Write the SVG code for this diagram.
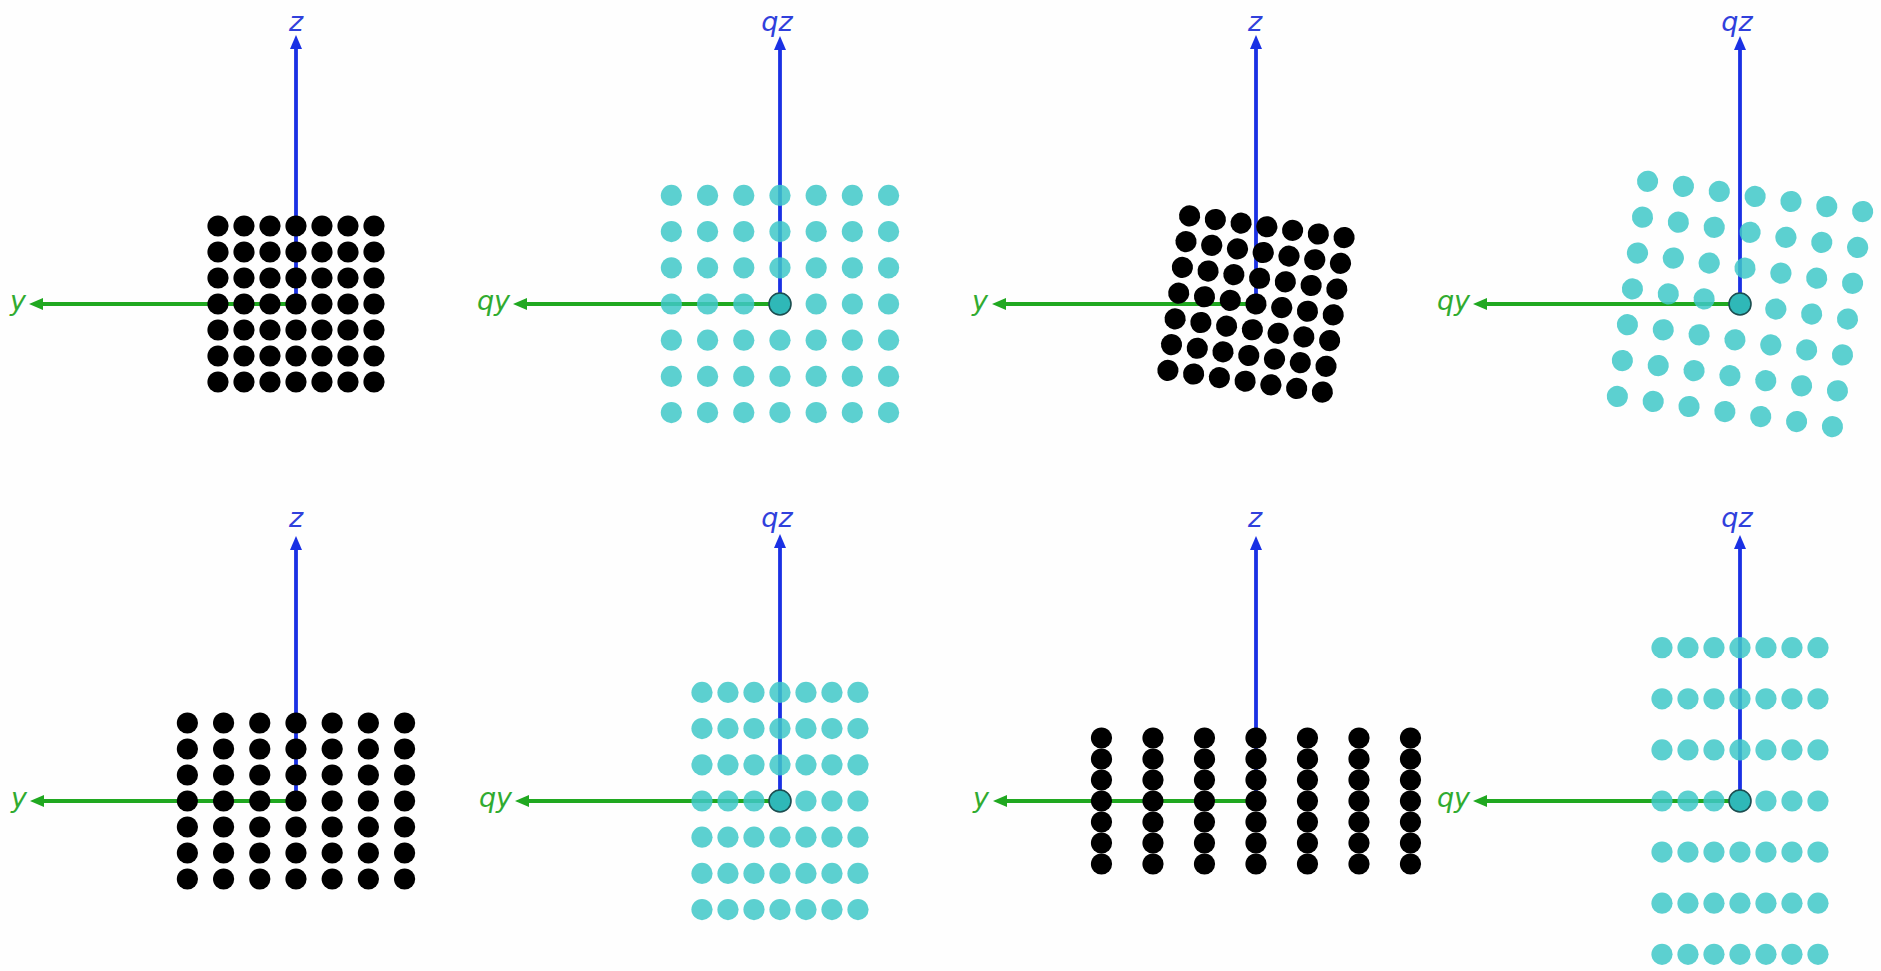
<svg xmlns="http://www.w3.org/2000/svg" xmlns:xlink="http://www.w3.org/1999/xlink" width="1881" height="971" viewBox="0 0 1881 971">
<style>
.zax{stroke:#1a30e4;stroke-width:3.8;fill:none;marker-end:url(#ab)}
.yax{stroke:#20a820;stroke-width:3.8;fill:none;marker-end:url(#ag)}
.zl{font-family:"DejaVu Sans",sans-serif;font-style:italic;font-size:27px;fill:#3040dc;text-anchor:middle}
.yl{font-family:"DejaVu Sans",sans-serif;font-style:italic;font-size:27px;fill:#30ab30;text-anchor:end}
.bk{fill:#000}
.cy{fill:#40c8c8;fill-opacity:0.85}
.org{fill:#2fb8b8;stroke:#1c4e50;stroke-width:1.6}
</style>
<defs>
<marker id="ab" viewBox="0 0 14 12" refX="6" refY="6" markerWidth="14" markerHeight="12" markerUnits="userSpaceOnUse" orient="auto"><path d="M0,0 L14,6 L0,12 z" fill="#1a30e4"/></marker>
<marker id="ag" viewBox="0 0 14 12" refX="6" refY="6" markerWidth="14" markerHeight="12" markerUnits="userSpaceOnUse" orient="auto"><path d="M0,0 L14,6 L0,12 z" fill="#20a820"/></marker>
<g id="r26"><circle cx="-78" cy="0" r="10.6"/><circle cx="-52" cy="0" r="10.6"/><circle cx="-26" cy="0" r="10.6"/><circle cx="0" cy="0" r="10.6"/><circle cx="26" cy="0" r="10.6"/><circle cx="52" cy="0" r="10.6"/><circle cx="78" cy="0" r="10.6"/></g>
<g id="r36"><circle cx="-108.6" cy="0" r="10.6"/><circle cx="-72.4" cy="0" r="10.6"/><circle cx="-36.2" cy="0" r="10.6"/><circle cx="0" cy="0" r="10.6"/><circle cx="36.2" cy="0" r="10.6"/><circle cx="72.4" cy="0" r="10.6"/><circle cx="108.6" cy="0" r="10.6"/></g>
<g id="r51"><circle cx="-154.5" cy="0" r="10.6"/><circle cx="-103" cy="0" r="10.6"/><circle cx="-51.5" cy="0" r="10.6"/><circle cx="0" cy="0" r="10.6"/><circle cx="51.5" cy="0" r="10.6"/><circle cx="103" cy="0" r="10.6"/><circle cx="154.5" cy="0" r="10.6"/></g>
</defs>
<rect width="1881" height="971" fill="#fefefe"/>

<g id="connectors">
<line class="zax" x1="296" y1="304" x2="296" y2="43"/>
<line class="yax" x1="296" y1="304" x2="37" y2="304"/>
<line class="zax" x1="780" y1="304" x2="780" y2="44"/>
<line class="yax" x1="780" y1="304" x2="521" y2="304"/>
<line class="zax" x1="1256" y1="304" x2="1256" y2="43"/>
<line class="yax" x1="1256" y1="304" x2="1000" y2="304"/>
<line class="zax" x1="1740" y1="304" x2="1740" y2="44"/>
<line class="yax" x1="1740" y1="304" x2="1481" y2="304"/>
<line class="zax" x1="296" y1="801" x2="296" y2="544"/>
<line class="yax" x1="296" y1="801" x2="38" y2="801"/>
<line class="zax" x1="780" y1="801" x2="780" y2="542"/>
<line class="yax" x1="780" y1="801" x2="523" y2="801"/>
<line class="zax" x1="1256" y1="801" x2="1256" y2="544"/>
<line class="yax" x1="1256" y1="801" x2="1001" y2="801"/>
<line class="zax" x1="1740" y1="801" x2="1740" y2="543"/>
<line class="yax" x1="1740" y1="801" x2="1481" y2="801"/>
</g>

<g id="panel1" class="bk" transform="translate(296,304)">
<use xlink:href="#r26" y="-78"/><use xlink:href="#r26" y="-52"/><use xlink:href="#r26" y="-26"/><use xlink:href="#r26" y="0"/><use xlink:href="#r26" y="26"/><use xlink:href="#r26" y="52"/><use xlink:href="#r26" y="78"/>
</g>
<g id="panel2" class="cy" transform="translate(780,304)">
<use xlink:href="#r36" y="-108.6"/><use xlink:href="#r36" y="-72.4"/><use xlink:href="#r36" y="-36.2"/><use xlink:href="#r36" y="0"/><use xlink:href="#r36" y="36.2"/><use xlink:href="#r36" y="72.4"/><use xlink:href="#r36" y="108.6"/>
</g>
<g id="panel3" class="bk" transform="translate(1256,304) rotate(8)">
<use xlink:href="#r26" y="-78"/><use xlink:href="#r26" y="-52"/><use xlink:href="#r26" y="-26"/><use xlink:href="#r26" y="0"/><use xlink:href="#r26" y="26"/><use xlink:href="#r26" y="52"/><use xlink:href="#r26" y="78"/>
</g>
<g id="panel4" class="cy" transform="translate(1740,304) rotate(8)">
<use xlink:href="#r36" y="-108.6"/><use xlink:href="#r36" y="-72.4"/><use xlink:href="#r36" y="-36.2"/><use xlink:href="#r36" y="0"/><use xlink:href="#r36" y="36.2"/><use xlink:href="#r36" y="72.4"/><use xlink:href="#r36" y="108.6"/>
</g>
<g id="panel5" class="bk" transform="translate(296,801)">
<use xlink:href="#r36" y="-78"/><use xlink:href="#r36" y="-52"/><use xlink:href="#r36" y="-26"/><use xlink:href="#r36" y="0"/><use xlink:href="#r36" y="26"/><use xlink:href="#r36" y="52"/><use xlink:href="#r36" y="78"/>
</g>
<g id="panel6" class="cy" transform="translate(780,801)">
<use xlink:href="#r26" y="-108.6"/><use xlink:href="#r26" y="-72.4"/><use xlink:href="#r26" y="-36.2"/><use xlink:href="#r26" y="0"/><use xlink:href="#r26" y="36.2"/><use xlink:href="#r26" y="72.4"/><use xlink:href="#r26" y="108.6"/>
</g>
<g id="panel7" class="bk" transform="translate(1256,801)">
<use xlink:href="#r51" y="-63"/><use xlink:href="#r51" y="-42"/><use xlink:href="#r51" y="-21"/><use xlink:href="#r51" y="0"/><use xlink:href="#r51" y="21"/><use xlink:href="#r51" y="42"/><use xlink:href="#r51" y="63"/>
</g>
<g id="panel8" class="cy" transform="translate(1740,801)">
<use xlink:href="#r26" y="-153.3"/><use xlink:href="#r26" y="-102.2"/><use xlink:href="#r26" y="-51.1"/><use xlink:href="#r26" y="0"/><use xlink:href="#r26" y="51.1"/><use xlink:href="#r26" y="102.2"/><use xlink:href="#r26" y="153.3"/>
</g>

<g id="origins">
<circle class="org" cx="780" cy="304" r="11"/>
<circle class="org" cx="1740" cy="304" r="11"/>
<circle class="org" cx="780" cy="801" r="11"/>
<circle class="org" cx="1740" cy="801" r="11"/>
</g>

<g id="labels">
<text class="zl" x="296" y="31">z</text>
<text class="yl" x="26" y="310">y</text>
<text class="zl" x="777" y="31">qz</text>
<text class="yl" x="510" y="310">qy</text>
<text class="zl" x="1255" y="31">z</text>
<text class="yl" x="988" y="310">y</text>
<text class="zl" x="1737" y="31">qz</text>
<text class="yl" x="1470" y="310">qy</text>
<text class="zl" x="296" y="527">z</text>
<text class="yl" x="27" y="807">y</text>
<text class="zl" x="777" y="527">qz</text>
<text class="yl" x="512" y="807">qy</text>
<text class="zl" x="1255" y="527">z</text>
<text class="yl" x="989" y="807">y</text>
<text class="zl" x="1737" y="527">qz</text>
<text class="yl" x="1470" y="807">qy</text>
</g>
</svg>
